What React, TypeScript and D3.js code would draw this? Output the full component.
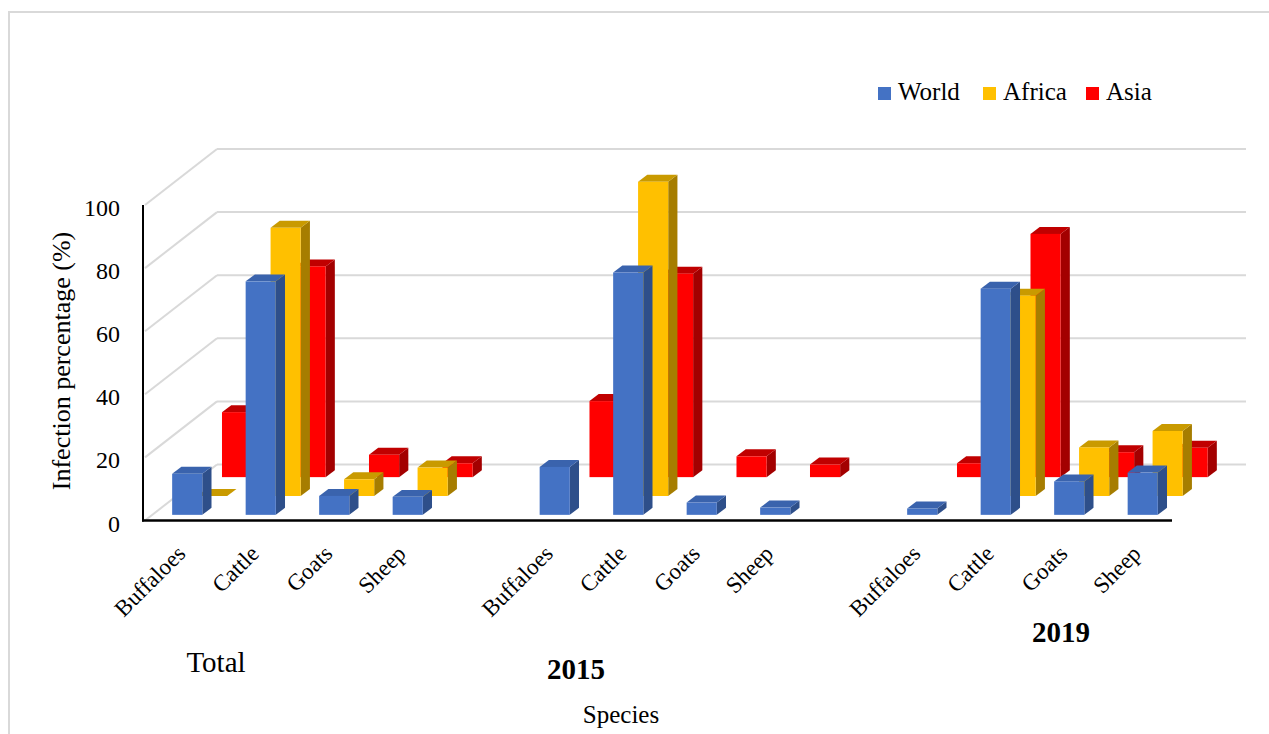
import React from 'react';
import * as d3 from 'd3';

const groups = ['Total', '2015', '2019'];
const species = ['Buffaloes', 'Cattle', 'Goats', 'Sheep'];
const seriesNames = ['World', 'Africa', 'Asia'];
// one value per group x species, null = no bar drawn
const world = [13, 74, 6, 5.7, 15.2, 76.8, 3.9, 2.3, 2, 71.7, 10.6, 13.4];
const africa = [0, 85, 5.3, 9, null, 99.6, null, null, null, 63.5, 15.4, 20.6];
const asia = [20.6, 66.8, 7.1, 4.4, 24.1, 64.5, 6.6, 4, 4.4, 77.1, 7.9, 9.3];
const yTicks = [0, 20, 40, 60, 80, 100];

const frontColors = ['#4472C4', '#FFC000', '#FF0000'];
const topColors = ['#3A63AD', '#C99A00', '#C00000'];
const sideColors = ['#2E4F8A', '#A67D00', '#A30000'];

const FONT = 'Liberation Serif, Times New Roman, serif';
const txt = {fontFamily: FONT};

export default function App()
{
    const W = 1269, H = 734;
    const DX = 74, DY = -56; // full depth of the floor
    const left = 143, right = 1172;

    // slot keys with an empty slot between the groups
    const slots: string[] = [];
    groups.forEach((g, gi) =>
    {
        species.forEach(s => slots.push(g + '|' + s));
        if (gi < groups.length - 1) slots.push('gap' + gi);
    });

    const x = d3.scaleBand<string>()
        .domain(slots)
        .range([left, right])
        .paddingInner(0.59)
        .paddingOuter(0.295);

    const y = d3.scaleLinear().domain([0, 100]).range([520.5, 205]);

    const z = d3.scaleBand<string>()
        .domain(seriesNames)
        .range([0, 1])
        .paddingInner(0.63)
        .paddingOuter(0.3);

    const seriesValues = [world, africa, asia];
    const bw = x.bandwidth();
    const bdx = z.bandwidth() * DX, bdy = z.bandwidth() * DY;

    const bars: JSX.Element[] = [];
    // back row first so front rows overlap it
    for (let si = seriesNames.length - 1; si >= 0; si--)
    {
        const dz = z(seriesNames[si]) as number;
        const ox = dz * DX, oy = dz * DY;
        seriesValues[si].forEach((v, i) =>
        {
            if (v === null) return;
            const g = groups[Math.floor(i / species.length)];
            const s = species[i % species.length];
            const x0 = (x(g + '|' + s) as number) + ox;
            const x1 = x0 + bw;
            const yt = y(v) + oy, yb = y(0) + oy;
            const key = si + '-' + i;
            bars.push(
                <g key={key}>
                    <polygon fill={sideColors[si]}
                             points={`${x1},${yt} ${x1 + bdx},${yt + bdy} ${x1 + bdx},${yb + bdy} ${x1},${yb}`}/>
                    <polygon fill={topColors[si]}
                             points={`${x0},${yt} ${x1},${yt} ${x1 + bdx},${yt + bdy} ${x0 + bdx},${yt + bdy}`}/>
                    {yb - yt > 0.5 &&
                        <rect fill={frontColors[si]} x={x0} y={yt} width={bw} height={yb - yt}/>}
                </g>
            );
        });
    }

    const grid = yTicks.map(t => (
        <g key={t}>
            <line x1={left + 2} y1={y(t)} x2={left + DX} y2={y(t) + DY}
                  stroke="#d9d9d9" strokeWidth={2}/>
            <line x1={left + DX} y1={y(t) + DY} x2={right + DX} y2={y(t) + DY}
                  stroke="#d9d9d9" strokeWidth={2}/>
        </g>
    ));

    const yLabels = yTicks.map(t => (
        <text key={t} x={120} y={y(t) + 11} textAnchor="end" fontSize={24} style={txt}>{t}</text>
    ));

    const xLabels: JSX.Element[] = [];
    groups.forEach(g => species.forEach(s =>
    {
        const cx = (x(g + '|' + s) as number) + bw / 2;
        xLabels.push(
            <text key={g + s} transform={`translate(${cx + 7},${555}) rotate(-45)`}
                  textAnchor="end" fontSize={23} style={txt}>{s}</text>
        );
    }));

    const legendX = [878, 983, 1086];

    return (
        <svg width={W} height={H} style={{position: 'absolute', left: 0, top: 0}}>
            <rect x={0} y={0} width={W} height={H} fill="#fff"/>
            <path d={`M9,${H} V12 H${W}`} fill="none" stroke="#d9d9d9" strokeWidth={2}/>

            {grid}
            {bars}

            <line x1={left} y1={205} x2={left} y2={521.5} stroke="#000" strokeWidth={2}/>
            <line x1={left - 1} y1={520.5} x2={right} y2={520.5} stroke="#000" strokeWidth={2.5}/>

            {yLabels}
            {xLabels}

            <text transform="translate(70,361) rotate(-90)" textAnchor="middle" fontSize={26} style={txt}>
                Infection percentage (%)
            </text>

            <text x={216} y={672} textAnchor="middle" fontSize={29} style={txt}>Total</text>
            <text x={576} y={679} textAnchor="middle" fontSize={29} fontWeight="bold" style={txt}>2015</text>
            <text x={1061} y={642} textAnchor="middle" fontSize={29} fontWeight="bold" style={txt}>2019</text>
            <text x={621} y={723} textAnchor="middle" fontSize={25} style={txt}>Species</text>

            {seriesNames.map((n, i) => (
                <g key={n}>
                    <rect x={legendX[i]} y={87} width={13} height={13} fill={frontColors[i]}/>
                    <text x={legendX[i] + 20} y={100} fontSize={25} style={txt}>{n}</text>
                </g>
            ))}
        </svg>
    );
}
